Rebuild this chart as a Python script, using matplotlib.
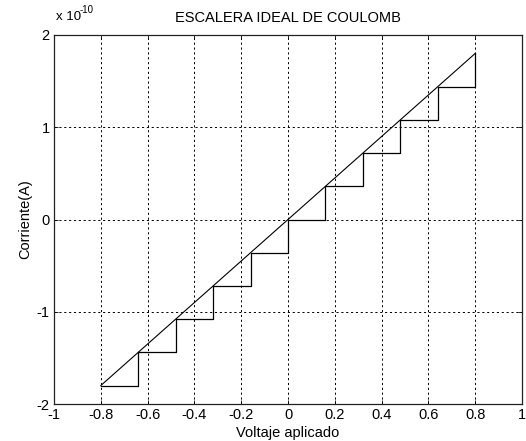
import matplotlib
matplotlib.use("Agg")
import matplotlib.pyplot as plt
from matplotlib.ticker import FuncFormatter, MultipleLocator

plt.rcParams['font.family'] = ['Liberation Sans', 'DejaVu Sans']
plt.rcParams['axes.unicode_minus'] = False

# Data (current in amperes)
step_v = [-0.8, -0.64, -0.48, -0.32, -0.16, 0.0, 0.16, 0.32, 0.48, 0.64, 0.8]
step_i = [-1.8e-10, -1.44e-10, -1.08e-10, -0.72e-10, -0.36e-10, 0.0,
          0.36e-10, 0.72e-10, 1.08e-10, 1.44e-10, 1.8e-10]
line_v = [-0.8, 0.8]
line_i = [-1.8e-10, 1.8e-10]

title = "ESCALERA IDEAL DE COULOMB"
xlabel = "Voltaje aplicado"
ylabel = "Corriente(A)"
scale = 1e-10

fig = plt.figure(figsize=(5.26, 4.41), dpi=100)
ax = fig.add_axes([54/526, 1-404/441, (522-54)/526, (404-35)/441])

ax.plot(line_v, line_i, color='black', lw=0.8)
ax.step(step_v, step_i, where='post', color='black', lw=0.9)

ax.set_xlim(-1, 1)
ax.set_ylim(-2e-10, 2e-10)
ax.xaxis.set_major_locator(MultipleLocator(0.2))
ax.yaxis.set_major_locator(MultipleLocator(1e-10))
ax.xaxis.set_major_formatter(FuncFormatter(lambda v, p: "%g" % round(v, 6)))
ax.yaxis.set_major_formatter(FuncFormatter(lambda v, p: "%g" % round(v/scale, 6)))

ax.grid(True, color='black', linestyle=(0, (2.2, 2.8)), linewidth=0.7)
ax.tick_params(direction='in', length=3, labelsize=10.5, pad=3, top=True, right=True, width=0.6)
for s in ax.spines.values():
    s.set_linewidth(0.9)
    s.set_color('#222222')

ax.set_title(title, fontsize=10.5, pad=9)
ax.set_xlabel(xlabel, fontsize=10.5, labelpad=3)
ax.set_ylabel(ylabel, fontsize=10.5, labelpad=3)
fig.text(56/526, 1-20/441, "x 10", fontsize=9.5, ha='left', va='baseline')
fig.text(80/526, 1-13/441, "-10", fontsize=7, ha='left', va='baseline')

fig.savefig("out.png", dpi=100)
